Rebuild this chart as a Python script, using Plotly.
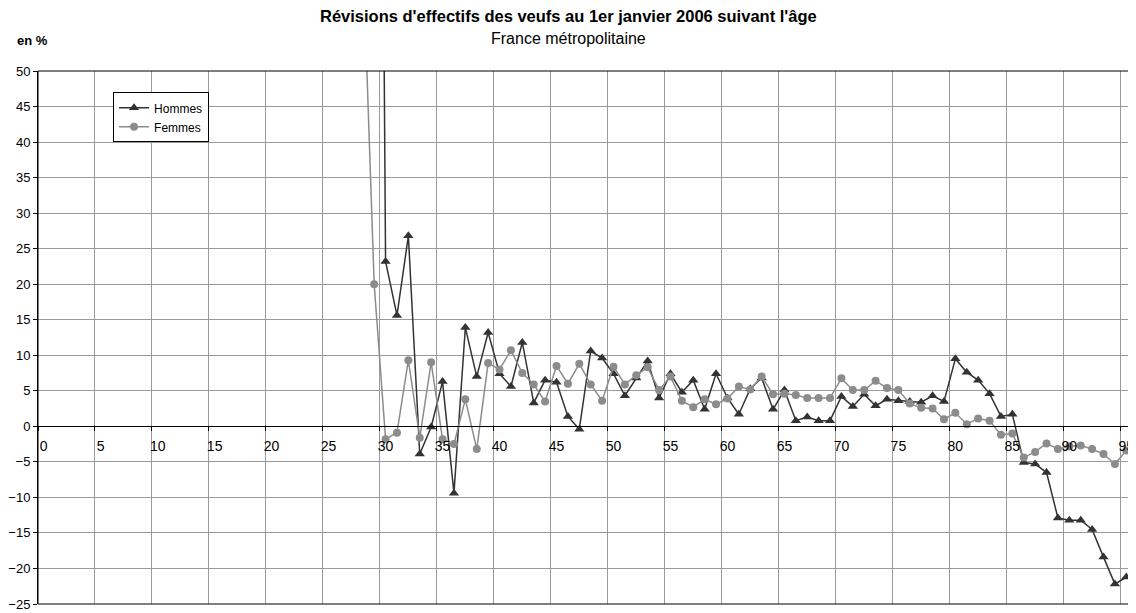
import plotly.graph_objects as go

# ages 0..95, values in % (None = no data)
ages = list(range(0, 96))

hommes = [None] * 29 + [
    250, 23.2, 15.6, 26.8, -3.9, -0.1, 6.3, -9.4, 13.9, 7.0,
    13.2, 7.4, 5.6, 11.8, 3.3, 6.5, 6.2, 1.4, -0.4, 10.6,
    9.6, 7.4, 4.3, 6.8, 9.2, 4.0, 7.4, 4.8, 6.5, 2.4,
    7.4, 4.0, 1.7, 5.3, 6.8, 2.4, 5.1, 0.8, 1.3, 0.8,
    0.8, 4.2, 2.8, 4.5, 2.9, 3.8, 3.6, 3.5, 3.4, 4.3,
    3.5, 9.5, 7.6, 6.5, 4.6, 1.4, 1.7, -5.1, -5.3, -6.5,
    -12.9, -13.2, -13.2, -14.5, -18.4, -22.2, -21.2,
]

femmes = [None] * 28 + [
    67, 20.0, -1.8, -0.9, 9.3, -1.6, 9.0, -1.8, -2.5, 3.8,
    -3.2, 8.9, 8.0, 10.7, 7.5, 5.9, 3.5, 8.5, 6.0, 8.8,
    5.9, 3.6, 8.4, 5.9, 7.2, 8.3, 5.1, 7.0, 3.6, 2.7,
    3.8, 3.1, 3.9, 5.6, 5.2, 7.0, 4.5, 4.6, 4.4, 4.0,
    4.0, 4.0, 6.75, 5.1, 5.1, 6.4, 5.4, 5.1, 3.2, 2.6,
    2.5, 1.0, 1.9, 0.3, 1.1, 0.8, -1.2, -1.0, -4.4, -3.6,
    -2.4, -3.2, -2.8, -2.7, -3.2, -3.9, -5.3, -3.4,
]

x_labels = list(range(0, 96, 5))
y_ticks = list(range(-25, 51, 5))

font = "Liberation Sans, Arial, sans-serif"
grid = "#9a9a9a"

fig = go.Figure()

fig.add_trace(go.Scatter(
    x=ages, y=hommes, name="Hommes", mode="lines+markers",
    line=dict(color="#333333", width=1.5),
    marker=dict(symbol="triangle-up", size=9, color="#333333"),
))
fig.add_trace(go.Scatter(
    x=ages, y=femmes, name="Femmes", mode="lines+markers",
    line=dict(color="#8c8c8c", width=1.5),
    marker=dict(symbol="circle", size=8, color="#8c8c8c"),
))

# page body has an 8px margin, so the figure is a bit smaller than the window
fig.update_layout(
    width=1128, height=605,
    margin=dict(l=30, r=4, t=63, b=9),
    paper_bgcolor="white", plot_bgcolor="white",
    font=dict(family=font, size=14, color="black"),
    showlegend=True,
    legend=dict(
        x=0.0686, y=0.96, xanchor="left", yanchor="top",
        bgcolor="white", bordercolor="black", borderwidth=1,
        font=dict(size=12), tracegroupgap=0, itemwidth=30,
    ),
    xaxis=dict(
        range=[-0.5, 95.5], automargin=False,
        tickmode="array", tickvals=x_labels, ticktext=[str(v) for v in x_labels],
        ticks="", showgrid=False, zeroline=False,
        showline=True, linecolor="black", linewidth=1,
        anchor="free", position=1 / 3,
        ticklabelstandoff=7,
        minor=dict(tickmode="linear", tick0=-0.5, dtick=5, ticks="outside",
                   ticklen=4, tickcolor="black", showgrid=True,
                   gridcolor=grid, gridwidth=1),
    ),
    yaxis=dict(
        range=[-25, 50], automargin=False, tickmode="array", tickvals=y_ticks,
        tickfont=dict(size=13),
        showgrid=True, gridcolor=grid, gridwidth=1, zeroline=False,
        showline=True, linecolor="black", linewidth=1,
        ticks="outside", ticklen=4, tickcolor="black",
    ),
)

# plot area border
fig.add_shape(type="rect", xref="paper", yref="paper", x0=0, x1=1, y0=0, y1=1,
              line=dict(color="black", width=1), layer="above")

fig.add_annotation(text="<b>Révisions d'effectifs des veufs au 1er janvier 2006 suivant l'âge</b>",
                   xref="paper", yref="paper", x=0.485, y=1.1032, yanchor="middle",
                   showarrow=False, font=dict(size=16.5))
fig.add_annotation(text="France métropolitaine",
                   xref="paper", yref="paper", x=0.485, y=1.061, yanchor="middle",
                   showarrow=False, font=dict(size=16))
fig.add_annotation(text="<b>en %</b>",
                   xref="paper", yref="paper", x=-0.021, y=1.0563, xanchor="left",
                   yanchor="middle", showarrow=False, font=dict(size=13))

fig.write_html("out.html")
